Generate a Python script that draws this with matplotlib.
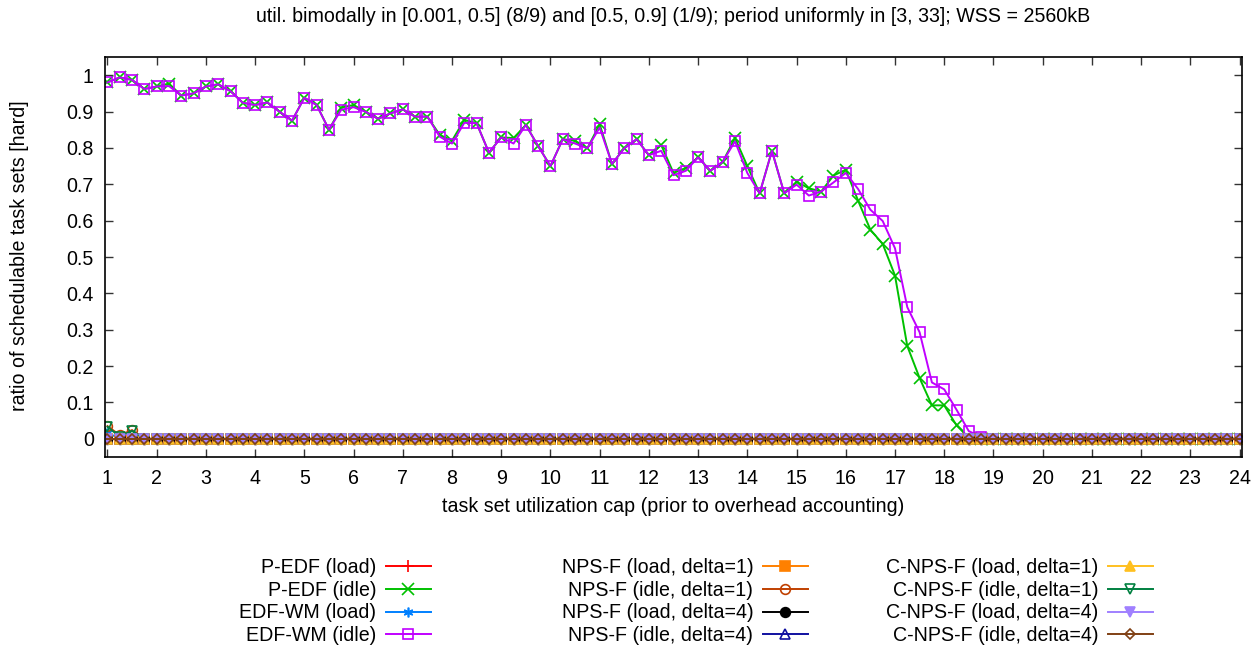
import matplotlib
matplotlib.use("Agg")
import matplotlib.pyplot as plt

plt.rcParams['font.family'] = ['Liberation Sans', 'DejaVu Sans']

# ---------------- data ----------------
util_cap = [1.0 + 0.25 * i for i in range(93)]  # 1, 1.25, ..., 24

edfwm_idle = [
    0.980, 0.994, 0.987, 0.962, 0.969, 0.970, 0.944, 0.950, 0.969, 0.975,
    0.956, 0.924, 0.918, 0.925, 0.899, 0.875, 0.938, 0.918, 0.850, 0.905,
    0.912, 0.899, 0.880, 0.895, 0.906, 0.886, 0.886, 0.831, 0.812, 0.869,
    0.868, 0.787, 0.829, 0.812, 0.863, 0.805, 0.750, 0.824, 0.812, 0.799,
    0.856, 0.756, 0.799, 0.824, 0.780, 0.792, 0.725, 0.737, 0.774, 0.737,
    0.762, 0.818, 0.731, 0.675, 0.792, 0.675, 0.699, 0.669, 0.680, 0.705,
    0.731, 0.687, 0.630, 0.599, 0.524, 0.362, 0.293, 0.155, 0.136, 0.080,
    0.021, 0.006,
    0, 0, 0, 0, 0, 0, 0, 0, 0, 0, 0, 0, 0, 0, 0, 0, 0, 0, 0, 0, 0]

pedf_idle = [
    0.980, 0.994, 0.987, 0.962, 0.969, 0.977, 0.944, 0.950, 0.969, 0.975,
    0.956, 0.924, 0.918, 0.925, 0.899, 0.875, 0.938, 0.918, 0.850, 0.911,
    0.918, 0.899, 0.880, 0.895, 0.906, 0.886, 0.886, 0.836, 0.820, 0.877,
    0.868, 0.787, 0.829, 0.827, 0.863, 0.805, 0.750, 0.824, 0.820, 0.799,
    0.865, 0.756, 0.799, 0.824, 0.780, 0.808, 0.731, 0.745, 0.774, 0.737,
    0.762, 0.827, 0.750, 0.675, 0.792, 0.675, 0.707, 0.689, 0.680, 0.724,
    0.740, 0.655, 0.575, 0.536, 0.449, 0.255, 0.167, 0.092, 0.092, 0.037,
    0.003, 0.0,
    0, 0, 0, 0, 0, 0, 0, 0, 0, 0, 0, 0, 0, 0, 0, 0, 0, 0, 0, 0, 0]

zeros = [0.0] * 93

edfwm_load = [0.017] + [0.0] * 92
npsf_idle_d1 = [0.035, 0.010, 0.024] + [0.0] * 90
cnpsf_idle_d1 = [0.033, 0.006, 0.022] + [0.0] * 90

series = [
    # label, values, color, marker, filled
    ("P-EDF (load)", zeros, "#ff0000", "+", True),
    ("P-EDF (idle)", pedf_idle, "#00c000", "x", True),
    ("EDF-WM (load)", edfwm_load, "#0080ff", (6, 2, 0), True),
    ("EDF-WM (idle)", edfwm_idle, "#c000ff", "s", False),
    ("NPS-F (load, delta=1)", zeros, "#ff8000", "s", True),
    ("NPS-F (idle, delta=1)", npsf_idle_d1, "#c04000", "o", False),
    ("NPS-F (load, delta=4)", zeros, "#000000", "o", True),
    ("NPS-F (idle, delta=4)", zeros, "#1010a0", "^", False),
    ("C-NPS-F (load, delta=1)", zeros, "#ffc020", "^", True),
    ("C-NPS-F (idle, delta=1)", cnpsf_idle_d1, "#008040", "v", False),
    ("C-NPS-F (load, delta=4)", zeros, "#a080ff", "v", True),
    ("C-NPS-F (idle, delta=4)", zeros, "#804014", "D", False),
]

x_ticks = list(range(1, 25))
y_ticks = [0, 0.1, 0.2, 0.3, 0.4, 0.5, 0.6, 0.7, 0.8, 0.9, 1]
y_tick_labels = ["0", "0.1", "0.2", "0.3", "0.4", "0.5", "0.6", "0.7", "0.8", "0.9", "1"]

title = ("util. bimodally in [0.001, 0.5] (8/9) and [0.5, 0.9] (1/9); "
         "period uniformly in [3, 33]; WSS = 2560kB")

# ---------------- figure ----------------
W, H = 1258, 653
fig = plt.figure(figsize=(W / 100, H / 100), dpi=100)
ax = fig.add_axes([105 / W, 1 - 457 / H, (1242 - 105) / W, (457 - 57) / H])

FS = 14.1
handles = []
for label, vals, color, marker, filled in series:
    ms = 7
    if marker in ("x", "+"):
        ms = 8
    if marker == "D":
        ms = 5.5
    if marker in ("^", "v"):
        ms = 6.5
    kw = dict(color=color, lw=1.4, marker=marker, markersize=ms,
              markeredgewidth=1.2)
    if not filled:
        kw["markerfacecolor"] = "none"
        kw["markeredgecolor"] = color
    line, = ax.plot(util_cap, vals, label=label, **kw)
    handles.append(line)

ax.set_xlim(0.95, 24.05)
ax.set_ylim(-0.05, 1.05)
ax.set_xticks(x_ticks)
ax.set_xticklabels([str(t) for t in x_ticks], fontsize=FS)
ax.set_yticks(y_ticks)
ax.set_yticklabels(y_tick_labels, fontsize=FS)
ax.tick_params(direction="in", length=6, width=1, top=True, right=True,
               colors="#333333", labelcolor="black", pad=8)
ax.tick_params(axis="x", pad=9)
for sp in ax.spines.values():
    sp.set_linewidth(1.2)
    sp.set_color("black")

fig.text(673 / W, 1 - 16 / H, title, ha="center", va="center", fontsize=FS)
fig.text(673 / W, 1 - 507 / H, "task set utilization cap (prior to overhead accounting)",
         ha="center", va="center", fontsize=FS)
fig.text(20 / W, 1 - 256 / H, "ratio of schedulable task sets [hard]",
         ha="center", va="center", rotation=90, fontsize=FS)

# legend: three right-aligned columns, text then sample
col_right = [431, 808, 1153]
for c in range(3):
    leg = fig.legend(handles=handles[4 * c:4 * c + 4], loc="upper right",
                     bbox_to_anchor=(col_right[c] / W, 1 - 558 / H),
                     frameon=False, markerfirst=False, fontsize=FS,
                     handlelength=2.3, handletextpad=0.5, borderpad=0,
                     borderaxespad=0, labelspacing=0.19, numpoints=1)
    for t in leg.get_texts():
        t.set_ha("right")

fig.savefig("out.png", dpi=100)
